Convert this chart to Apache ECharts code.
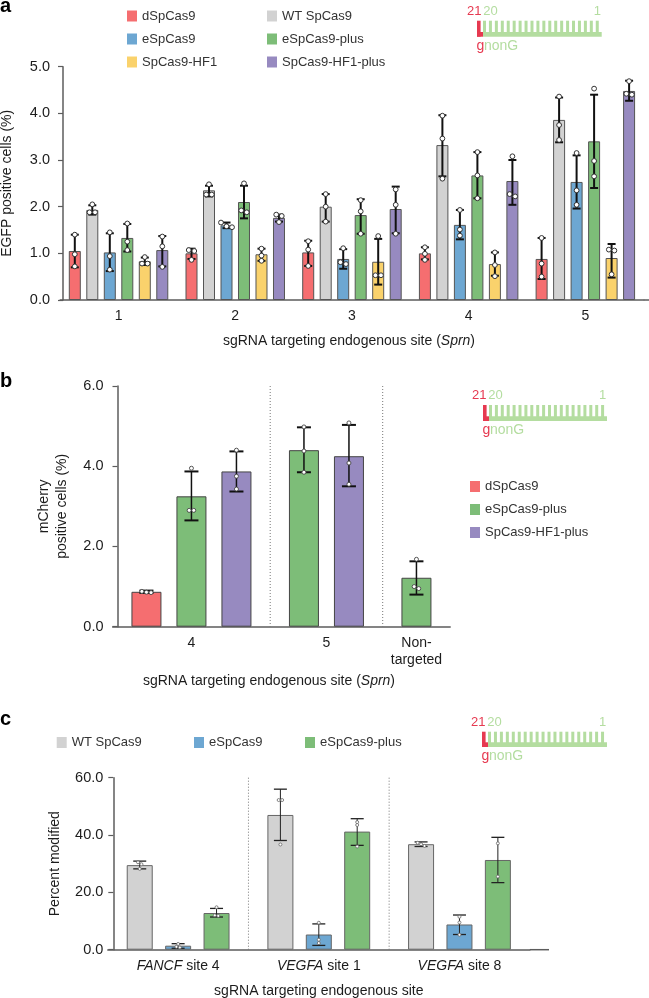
<!DOCTYPE html>
<html>
<head>
<meta charset="utf-8">
<style>html,body{margin:0;padding:0;background:#fff}</style>
</head>
<body>
<div id="container" style="width:649px;height:998px;"></div>
<script src="https://cdn.jsdelivr.net/npm/echarts@6/dist/echarts.min.js"></script>
<script>
// panel a, rows are series and columns are sites
const aCategories = ['1', '2', '3', '4', '5'];
const aNames = ['dSpCas9', 'WT SpCas9', 'eSpCas9', 'eSpCas9-plus', 'SpCas9-HF1', 'SpCas9-HF1-plus'];
const aMeans = [
  [1.05, 1.00, 1.02, 1.00, 0.88],
  [1.93, 2.35, 2.00, 3.32, 3.86],
  [1.02, 1.60, 0.88, 1.61, 2.53],
  [1.33, 2.10, 1.82, 2.67, 3.40],
  [0.83, 0.98, 0.82, 0.77, 0.90],
  [1.07, 1.76, 1.95, 2.55, 4.48]
];
const aLow = [
  [0.70, 0.88, 0.73, 0.87, 0.45],
  [1.83, 2.22, 1.68, 2.65, 3.38],
  [0.62, 1.54, 0.67, 1.30, 1.96],
  [1.04, 1.75, 1.42, 2.18, 2.40],
  [0.75, 0.84, 0.33, 0.52, 0.48],
  [0.72, 1.68, 1.43, 2.04, 4.27]
];
const aHigh = [
  [1.40, 1.10, 1.27, 1.13, 1.33],
  [2.03, 2.45, 2.27, 3.96, 4.34],
  [1.43, 1.66, 1.09, 1.93, 3.10],
  [1.63, 2.45, 2.16, 3.17, 4.40],
  [0.91, 1.10, 1.31, 1.02, 1.20],
  [1.37, 1.83, 2.43, 3.00, 4.70]
];
const aPoints = [
  [[1.40, 0.98, 0.72], [1.07, 1.05, 0.86], [1.26, 1.08, 0.73], [1.13, 0.99, 0.86], [1.33, 0.78, 0.50]],
  [[2.05, 1.88, 1.88], [2.48, 2.26, 2.26], [2.27, 2.00, 1.68], [3.95, 3.46, 2.60], [4.36, 3.75, 3.43]],
  [[1.45, 0.94, 0.65], [1.66, 1.58, 1.56], [1.11, 0.81, 0.77], [1.93, 1.51, 1.38], [3.15, 2.35, 2.04]],
  [[1.64, 1.25, 1.07], [2.50, 1.92, 1.88], [2.14, 1.90, 1.42], [3.17, 2.67, 2.18], [4.53, 2.98, 2.65]],
  [[0.92, 0.78, 0.78], [1.10, 0.95, 0.84], [1.37, 0.53, 0.53], [1.02, 0.75, 0.51], [1.08, 1.06, 0.55]],
  [[1.36, 1.15, 0.71], [1.83, 1.80, 1.67], [2.37, 2.04, 1.42], [3.08, 2.27, 2.22], [4.69, 4.42, 4.40]]
];

// panel b, spaced bars: one slot per half bar step
const bCategories = ['', '', '', '4', '', '', '', '', '', '5', '', '', '', 'Non-\ntargeted', ''];
const bDividers = [7, 12];
const bNames = ['dSpCas9', 'eSpCas9-plus', 'SpCas9-HF1-plus'];
const bSlots = [[1], [3, 8, 13], [5, 10]];
const bMeans = [[0.87], [3.25, 4.40, 1.22], [3.87, 4.25]];
const bLow = [[0.84], [2.65, 3.85, 0.80], [3.37, 3.50]];
const bHigh = [[0.90], [3.87, 4.97, 1.63], [4.37, 5.03]];
const bPoints = [
  [[0.88, 0.86, 0.85]],
  [[3.95, 2.90, 2.90], [4.98, 4.38, 3.85], [1.68, 1.00, 0.95]],
  [[4.40, 3.75, 3.43], [5.08, 4.08, 3.55]]
];

// panel c
const cCategories = ['FANCF site 4', 'VEGFA site 1', 'VEGFA site 8'];
const cDividers = [1, 2];
const cNames = ['WT SpCas9', 'eSpCas9', 'eSpCas9-plus'];
const cMeans = [[29.5, 47.0, 36.8], [1.4, 5.3, 8.8], [12.8, 41.2, 31.3]];
const cLow = [[28.2, 38.1, 36.0], [0.5, 1.5, 5.3], [11.4, 36.4, 23.4]];
const cHigh = [[30.9, 56.0, 37.6], [2.1, 9.0, 12.1], [14.4, 45.7, 39.2]];
const cPoints = [
  [[30.5, 29.8, 28.2], [52.2, 52.2, 36.7], [37.3, 36.8, 36.2]],
  [[2.0, 1.0, 0.8], [9.4, 3.5, 2.3], [11.5, 9.5, 5.2]],
  [[14.8, 12.0, 11.8], [44.5, 43.5, 36.0], [37.1, 25.5]]
];

const colors = {
  'dSpCas9': '#F56E70',
  'WT SpCas9': '#D2D2D2',
  'eSpCas9': '#6DA7D2',
  'eSpCas9-plus': '#7DBD78',
  'SpCas9-HF1': '#FAD26C',
  'SpCas9-HF1-plus': '#978AC0'
};
const font = '"Liberation Sans", Arial, sans-serif';
const ink = '#1c1c1c';
const axisGray = '#5c5c5c';
const red = '#E63950';
const pale = '#B4DDA0';

const dom = document.getElementById('container');
const myChart = echarts.init(dom, null, { renderer: 'canvas' });

// spreads points that would sit on top of each other
function spread(pixelYs, radius) {
  const out = [];
  let cluster = [];
  const flush = function () {
    cluster.forEach(function (y, i) {
      out.push([(i - (cluster.length - 1) / 2) * radius * 2.3, y]);
    });
    cluster = [];
  };
  pixelYs.slice().sort(function (a, b) { return a - b; }).forEach(function (y) {
    if (cluster.length && y - cluster[cluster.length - 1] > radius * 1.6) flush();
    cluster.push(y);
  });
  flush();
  return out;
}

// one custom series holds the whisker and the dots of every bar in a panel
function whiskers(panel, rows, style) {
  return {
    type: 'custom',
    name: 'whiskers ' + panel,
    xAxisIndex: panel,
    yAxisIndex: panel,
    silent: true,
    z: 5,
    clip: false,
    data: rows.map(function (r) { return [r.slot, r.low, r.high]; }),
    encode: { x: 0, y: [1, 2] },
    renderItem: function (params, api) {
      const r = rows[params.dataIndex];
      const x = api.coord([r.slot, 0])[0] + r.shift;
      const top = api.coord([r.slot, r.high])[1];
      const bottom = api.coord([r.slot, r.low])[1];
      const line = { stroke: style.ink, lineWidth: style.width };
      const capLine = { stroke: style.ink, lineWidth: style.capWidth };
      const children = [
        { type: 'line', shape: { x1: x, y1: top, x2: x, y2: bottom }, style: line },
        { type: 'line', shape: { x1: x - style.cap, y1: top, x2: x + style.cap, y2: top }, style: capLine },
        { type: 'line', shape: { x1: x - style.cap, y1: bottom, x2: x + style.cap, y2: bottom }, style: capLine }
      ];
      const ys = r.points.map(function (v) { return api.coord([r.slot, v])[1]; });
      spread(ys, style.radius).forEach(function (p) {
        children.push({
          type: 'circle',
          shape: { cx: x + p[0], cy: p[1], r: style.radius },
          style: { fill: '#fff', stroke: style.dot, lineWidth: style.dotWidth }
        });
      });
      return { type: 'group', children: children };
    }
  };
}

// dotted separators on the band edge before the given categories
function dividers(panel, list, max) {
  return {
    type: 'custom',
    name: 'dividers ' + panel,
    xAxisIndex: panel,
    yAxisIndex: panel,
    silent: true,
    z: 1,
    data: list.map(function (d) { return [d, 0, max]; }),
    encode: { x: 0, y: [1, 2] },
    renderItem: function (params, api) {
      const band = api.size([1, 0])[0];
      const x = api.coord([api.value(0), 0])[0] - band / 2;
      return {
        type: 'line',
        shape: { x1: x, y1: api.coord([api.value(0), api.value(2)])[1], x2: x, y2: api.coord([api.value(0), 0])[1] },
        style: { stroke: '#777', lineWidth: 1, lineDash: [1, 2] }
      };
    }
  };
}

function bars(panel, name, data, barWidth, barGap, border) {
  return {
    type: 'bar',
    name: name,
    xAxisIndex: panel,
    yAxisIndex: panel,
    data: data,
    barWidth: barWidth,
    barGap: barGap,
    itemStyle: { color: colors[name], borderColor: border, borderWidth: 1 }
  };
}

function yAxis(panel, max, interval, offset, name, nameGap, labelMargin) {
  return {
    type: 'value',
    gridIndex: panel,
    min: 0,
    max: max,
    interval: interval,
    offset: offset,
    name: name,
    nameLocation: 'middle',
    nameRotate: 90,
    nameGap: nameGap,
    nameTextStyle: { fontFamily: font, fontSize: 14, color: ink, lineHeight: 18 },
    axisLine: { show: true, lineStyle: { color: axisGray, width: 1.5 } },
    axisTick: { show: true, length: 5, lineStyle: { color: axisGray, width: 1.2 } },
    axisLabel: {
      fontFamily: font, fontSize: 14.5, color: ink, margin: labelMargin,
      formatter: function (v) { return v.toFixed(1); }
    },
    splitLine: { show: false }
  };
}

function xAxis(panel, categories, name, nameGap, namePad, labelFormatter) {
  const rich = { i: { fontFamily: font, fontSize: 14, fontStyle: 'italic', color: ink } };
  return {
    type: 'category',
    gridIndex: panel,
    data: categories,
    name: name,
    nameLocation: 'middle',
    nameGap: nameGap,
    nameTextStyle: { fontFamily: font, fontSize: 14, color: ink, padding: namePad, rich: rich },
    axisLine: { show: true, onZero: false, lineStyle: { color: axisGray, width: 1.5 } },
    axisTick: { show: false },
    axisLabel: {
      interval: 0, fontFamily: font, fontSize: 14, color: ink, margin: 8, lineHeight: 17,
      hideOverlap: false, formatter: labelFormatter, rich: rich
    },
    splitLine: { show: false }
  };
}

function legend(names, left, top) {
  return {
    data: names,
    left: left,
    top: top,
    orient: 'vertical',
    padding: 0,
    itemGap: 10,
    itemWidth: 10,
    itemHeight: 11,
    icon: 'rect',
    selectedMode: false,
    itemStyle: { borderWidth: 0 },
    textStyle: { fontFamily: font, fontSize: 13, color: '#333', padding: [0, 0, 0, 0] }
  };
}

// the guide mismatch schematic, not data, so it is plain graphic
function guide(left, width, top, height, labelLeft) {
  const base = top + height - 4.7;
  const items = [
    { type: 'rect', shape: { x: left + 6, y: base, width: width - 6, height: 4.7 }, style: { fill: pale } }
  ];
  const pitch = (width - 6) / 20;
  for (let i = 0; i < 20; i++) {
    items.push({ type: 'rect', shape: { x: left + 6 + i * pitch, y: top, width: 3, height: height - 4 }, style: { fill: pale } });
  }
  items.push({ type: 'rect', shape: { x: left, y: top, width: 3.6, height: height }, style: { fill: red } });
  items.push({ type: 'rect', shape: { x: left, y: base, width: 6, height: 4.7 }, style: { fill: red } });
  const text = function (s, x, y, fill, size) {
    items.push({
      type: 'text', x: x, y: y,
      style: { text: s, fill: fill, fontFamily: font, fontSize: size, textVerticalAlign: 'middle' }
    });
  };
  text('21', labelLeft, top - 9.7, red, 13);
  text('20', labelLeft + 16.2, top - 9.7, pale, 13);
  text('1', left + width - 8, top - 9.7, pale, 13);
  text('g', left - 0.5, top + height + 9, red, 14);
  text('nonG', left + 7, top + height + 9, pale, 14);
  return items;
}

function panelLetter(s, y) {
  return {
    type: 'text', x: 0, y: y,
    style: { text: s, fill: '#000', fontFamily: font, fontSize: 20, fontWeight: 'bold', textVerticalAlign: 'middle' }
  };
}

function axisStub(x1, x2, y) {
  return { type: 'line', shape: { x1: x1, y1: y, x2: x2, y2: y }, style: { stroke: axisGray, lineWidth: 1.5 } };
}

const series = [];

// panel a
const aStep = 17.5;
const aRows = [];
aNames.forEach(function (name, s) {
  series.push(bars(0, name, aMeans[s], 12, '45.8%', '#555'));
  aCategories.forEach(function (c, g) {
    aRows.push({ slot: g, shift: (s - 2.5) * aStep, low: aLow[s][g], high: aHigh[s][g], points: aPoints[s][g] });
  });
});
series.push(whiskers(0, aRows, { ink: '#111', width: 2, capWidth: 2, cap: 4, radius: 2.4, dot: '#333', dotWidth: 1 }));

// panel b
const bRows = [];
bNames.forEach(function (name, s) {
  const values = bCategories.map(function () { return null; });
  bSlots[s].forEach(function (slot, i) {
    values[slot] = bMeans[s][i];
    bRows.push({ slot: slot, shift: 0, low: bLow[s][i], high: bHigh[s][i], points: bPoints[s][i] });
  });
  series.push(bars(1, name, values, 30, '-100%', '#444'));
});
series.push(whiskers(1, bRows, { ink: '#111', width: 1.5, capWidth: 2, cap: 7, radius: 2, dot: '#444', dotWidth: 0.9 }));
series.push(dividers(1, bDividers, 6));

// panel c
const cStep = 38.4;
const cRows = [];
cNames.forEach(function (name, s) {
  series.push(bars(2, name, cMeans[s], 26, '47.7%', '#666'));
  cCategories.forEach(function (c, g) {
    cRows.push({ slot: g, shift: (s - 1) * cStep, low: cLow[s][g], high: cHigh[s][g], points: cPoints[s][g] });
  });
});
series.push(whiskers(2, cRows, { ink: '#222', width: 1, capWidth: 1.3, cap: 6.5, radius: 1.5, dot: '#666', dotWidth: 0.8 }));
series.push(dividers(2, cDividers, 60));

const option = {
  animation: false,
  backgroundColor: '#fff',
  grid: [
    { left: 60.2, top: 66.7, width: 583.5, height: 233.3, outerBoundsMode: 'none' },
    { left: 112.7, top: 386, width: 337.5, height: 240.7, outerBoundsMode: 'none' },
    { left: 107.8, top: 777.7, width: 422, height: 172, outerBoundsMode: 'none' }
  ],
  xAxis: [
    xAxis(0, aCategories, 'sgRNA targeting endogenous site ({i|Sprn})', 34, [0, 6, 0, 0]),
    xAxis(1, bCategories, 'sgRNA targeting endogenous site ({i|Sprn})', 47, [0, 25, 0, 0]),
    xAxis(2, cCategories, 'sgRNA targeting endogenous site', 34, 0, function (v) {
      return v.replace(/^(\S+)/, '{i|$1}');
    })
  ],
  yAxis: [
    yAxis(0, 5, 1, -2.8, 'EGFP positive cells (%)', 47, 13),
    yAxis(1, 6, 2, -4.8, 'mCherry\npositive cells (%)', 46, 14),
    yAxis(2, 60, 20, -5.5, 'Percent modified', 49, 10)
  ],
  legend: [
    legend(['dSpCas9', 'eSpCas9', 'SpCas9-HF1'], 127, 9.5),
    legend(['WT SpCas9', 'eSpCas9-plus', 'SpCas9-HF1-plus'], 267, 9.5),
    legend(bNames, 470, 480),
    legend(['WT SpCas9'], 56.7, 736),
    legend(['eSpCas9'], 194, 736),
    legend(['eSpCas9-plus'], 305, 736)
  ],
  series: series,
  graphic: { elements: [
    panelLetter('a', 6),
    panelLetter('b', 381),
    panelLetter('c', 719),
    axisStub(643.7, 649, 300),
    axisStub(529.8, 549, 949.7)
  ].concat(guide(477, 124.7, 20.7, 16, 467), guide(483, 124, 405, 16, 472), guide(482, 125, 731.7, 15.3, 471)) }
};
myChart.setOption(option, true);
window.onresize = function () { myChart.resize(); };
</script>
</body>
</html>
